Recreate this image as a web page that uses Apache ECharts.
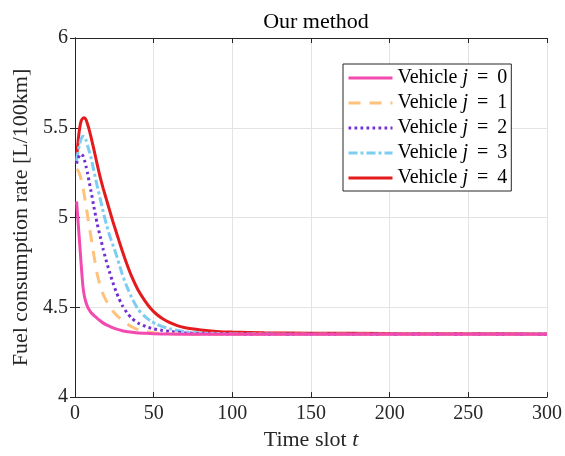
<!DOCTYPE html>
<html>
<head>
<meta charset="utf-8">
<script src="https://cdn.jsdelivr.net/npm/echarts@6/dist/echarts.min.js"></script>
<style>html,body{margin:0;padding:0;background:#fff}#c{width:565px;height:456px}</style>
</head>
<body>
<div id="c"></div>
<script>
const seriesNames = ['Vehicle j = 0','Vehicle j = 1','Vehicle j = 2','Vehicle j = 3','Vehicle j = 4'];
const xTicks = [0,50,100,150,200,250,300];
const yTicks = [4,4.5,5,5.5,6];

const t0 = [1,2,3,4,5,6,7,8,9,10,12,14,16,18,20,23,26,30,35,40,45,50,60,80,100,150,200,250,300];
const v0 = [5.09,4.97,4.85,4.73,4.62,4.56,4.527,4.503,4.487,4.473,4.455,4.44,4.425,4.412,4.402,4.39,4.38,4.37,4.362,4.357,4.355,4.353,4.351,4.35,4.35,4.35,4.35,4.35,4.35];

const t1 = [1,2,3,4,5,6,7,8,9,10,12,14,16,18,20,22,25,28,32,36,40,45,50,60,70,80,100,150,200,250,300];
const v1 = [5.27,5.26,5.24,5.21,5.17,5.12,5.065,5.01,4.955,4.90,4.79,4.69,4.62,4.57,4.535,4.505,4.47,4.443,4.413,4.392,4.376,4.365,4.358,4.353,4.351,4.35,4.35,4.35,4.35,4.35,4.35];

const t2 = [1,2,3,4,5,6,7,8,9,10,12,14,16,18,20,22,24,26,28,30,33,36,40,45,50,55,60,70,80,100,150,200,250,300];
const v2 = [5.30,5.33,5.348,5.354,5.345,5.32,5.285,5.245,5.2,5.155,5.06,4.97,4.895,4.82,4.755,4.695,4.64,4.59,4.548,4.512,4.47,4.44,4.413,4.393,4.38,4.372,4.366,4.358,4.354,4.351,4.35,4.35,4.35,4.35];

const t3 = [1,2,3,4,5,6,7,8,10,12,14,16,18,20,22,24,26,28,30,33,36,40,44,48,52,56,60,65,70,80,90,100,120,150,200,250,300];
const v3 = [5.315,5.37,5.41,5.44,5.453,5.45,5.43,5.40,5.34,5.26,5.18,5.105,5.03,4.96,4.9,4.85,4.8,4.742,4.685,4.615,4.555,4.49,4.452,4.424,4.405,4.391,4.381,4.371,4.364,4.357,4.354,4.352,4.351,4.35,4.35,4.35,4.35];

const t4 = [1,2,3,4,5,6,7,8,9,10,12,14,16,18,20,22,24,26,28,30,33,36,40,44,48,52,56,60,65,70,80,90,100,120,150,200,250,300];
const v4 = [5.33,5.43,5.50,5.54,5.553,5.556,5.545,5.52,5.49,5.455,5.38,5.30,5.225,5.16,5.10,5.04,4.98,4.925,4.87,4.815,4.74,4.672,4.598,4.542,4.495,4.46,4.435,4.416,4.398,4.386,4.374,4.366,4.362,4.358,4.356,4.354,4.353,4.352];

const times = [t0,t1,t2,t3,t4];
const vals = [v0,v1,v2,v3,v4];
const colors = ['#F24AAE','#FFC27A','#7130D2','#7DCDF2','#E41A1C'];
const dashes = ['solid',[12,9],[2.7,3.3],[9,3,3,3],'solid'];

const serif = '"Liberation Serif","DejaVu Serif",serif';
const chart = echarts.init(document.getElementById('c'));

const series = vals.map((v,i)=>({
  name: seriesNames[i],
  type: 'line',
  data: v.map((y,k)=>[times[i][k], y]),
  smooth: 0.2,
  symbol: 'none',
  lineStyle: {color: colors[i], width: 3, type: dashes[i]},
  itemStyle: {color: colors[i]},
  z: 10 - i
}));

const axisLine = {show:true, lineStyle:{color:'#262626', width:1}};
const tick = {show:true, inside:true, length:5, lineStyle:{color:'#262626'}};
const split = {show:true, lineStyle:{color:'#e3e3e3', width:1}};

chart.setOption({
  animation: false,
  backgroundColor: '#fff',
  title: {
    text: 'Our method',
    left: 311, top: 6, textAlign: 'center',
    textStyle: {fontFamily: serif, fontSize: 22, fontWeight: 'normal', color: '#000'}
  },
  grid: {left: 75, right: 17, top: 38, bottom: 56, containLabel: false},
  legend: {
    orient: 'vertical',
    left: 343, top: 64,
    padding: [3, 4, 2, 4],
    itemGap: 3,
    itemWidth: 44, itemHeight: 14,
    backgroundColor: '#fff',
    borderColor: '#262626', borderWidth: 1, borderRadius: 0,
    itemStyle: {opacity: 0},
    lineStyle: {width: 3},
    data: seriesNames,
    formatter: function(n){ const p = n.split('j'); const q = p[1].split('='); return p[0] + '{i|j}' + q[0] + '{e|=}' + q[1]; },
    textStyle: {
      fontFamily: serif, fontSize: 20, color: '#000', lineHeight: 22,
      rich: {
        i: {fontFamily: serif, fontStyle: 'italic', fontSize: 20, color:'#000', lineHeight: 22},
        e: {fontFamily: serif, fontSize: 20, color:'#000', lineHeight: 22, padding: [0,4,0,4]}
      }
    }
  },
  xAxis: [{
    type: 'value', min: 0, max: 300, interval: 50,
    position: 'bottom',
    axisLine, axisTick: tick, splitLine: split,
    axisLabel: {fontFamily: serif, fontSize: 20, color: '#262626', margin: 7},
    name: 'Time slot {i|t}', nameLocation: 'middle', nameGap: 29,
    nameTextStyle: {fontFamily: serif, fontSize: 22, color: '#262626',
      rich: {i: {fontFamily: serif, fontStyle: 'italic', fontSize: 22, color: '#262626'}}}
  },{
    type: 'value', min: 0, max: 300, interval: 50, position: 'top',
    axisLine, axisTick: tick, splitLine: {show:false}, axisLabel: {show:false}
  }],
  yAxis: [{
    type: 'value', min: 4, max: 6, interval: 0.5,
    position: 'left',
    axisLine, axisTick: tick, splitLine: split,
    axisLabel: {fontFamily: serif, fontSize: 20, color: '#262626', margin: 7},
    name: 'Fuel consumption rate [L/100km]', nameLocation: 'middle', nameGap: 42,
    nameTextStyle: {fontFamily: serif, fontSize: 22, color: '#262626'}
  },{
    type: 'value', min: 4, max: 6, interval: 0.5, position: 'right',
    axisLine, axisTick: tick, splitLine: {show:false}, axisLabel: {show:false}
  }],
  series
});
</script>
</body>
</html>
